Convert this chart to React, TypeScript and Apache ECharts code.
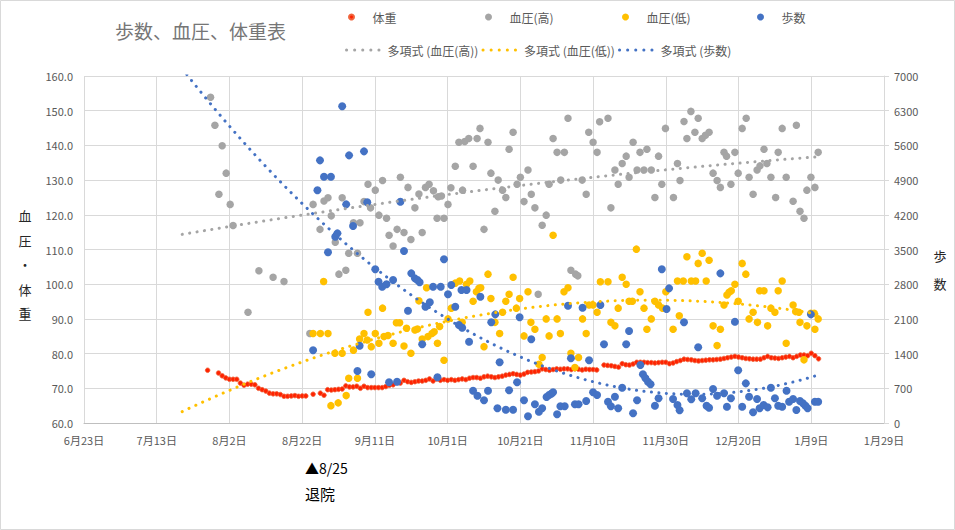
import React, { useEffect, useRef } from "react";
import * as echarts from "echarts";

// x values are days counted from 6/23 (first tick of the date axis)
const START_DATE = Date.UTC(2019, 5, 23);
const X_MIN = 0;
const X_MAX = 220;
const X_STEP = 20;
const TREND_FROM = 27;
const TREND_TO = 202;

const titleText = "歩数、血圧、体重表";
const seriesNames = ["体重", "血圧(高)", "血圧(低)", "歩数"];
const trendNames = ["多項式 (血圧(高))", "多項式 (血圧(低))", "多項式 (歩数)"];

// 体重: one value per day starting at day 34 (7/27); null = no record
const weightStartDay = 34;
const weight: (number | null)[] = [
  75.2, null, null, 74.4, 73.6, 73.0, 72.6, 72.6, 72.6, 71.5,
  70.9, 71.2, 71.2, 71.0, 70.0, 69.6, 69.2, 68.6, 68.4, 68.4,
  68.2, 67.7, 67.7, 67.8, 67.9, 67.7, 67.8, 67.8, null, 68.3,
  null, 68.6, 68.0, 69.6, 69.5, 69.6, 69.7, 69.8, 70.7, 70.4,
  70.4, 70.6, 70.0, 70.6, 70.2, 70.2, 70.2, 70.2, 70.2, 70.5,
  70.9, 71.0, 71.7, 71.5, 72.3, 71.9, 71.7, 71.9, 72.1, 72.1,
  72.3, 72.7, 72.1, 72.7, 72.3, 72.5, 72.3, 72.5, 72.3, 72.5,
  72.7, 72.5, 72.9, 73.1, 73.1, 72.9, 73.3, 73.5, 73.3, 73.1,
  73.3, 73.5, 73.8, 74.0, 74.2, 74.0, 73.8, 74.1, 74.6, 74.7,
  74.8, 75.0, 75.6, 75.4, 75.2, 75.4, 75.6, 75.5, 75.6, 75.6,
  75.4, 75.6, 75.5, 75.3, 75.5, 75.4, 75.4, 75.3, null, 76.7,
  76.6, 76.5, 76.3, 76.1, 77.1, 76.8, 76.7, 77.0, 77.5, 77.5,
  77.5, 77.4, 77.4, 77.3, 77.4, 77.5, 77.5, 77.1, 77.3, 77.7,
  78.0, 78.4, 78.3, 78.2, 78.0, 77.9, 78.0, 78.1, 78.2, 78.2,
  78.3, 78.4, 78.6, 78.8, 79.0, 79.2, 79.0, 78.8, 78.6, 78.5,
  78.4, 78.4, 78.4, 78.8, 79.2, 78.8, 78.7, 78.6, 78.8, 79.0,
  79.2, 78.8, 79.2, 79.6, 79.6, 79.4, 80.1, 79.4, 78.5,
];

// 血圧(高): [day, mmHg]
const bpHigh: [number, number][] = [
  [34.8, 153.9], [36.0, 145.8], [37.1, 125.9], [38.0, 139.9], [39.1, 132.0], [40.2, 123.0], [41.0, 116.9],
  [45.1, 91.9], [48.1, 103.9], [52.0, 102.0], [55.0, 100.8],
  [62.1, 85.8], [63.0, 123.0], [64.9, 115.8], [66.0, 124.0], [67.1, 124.9], [68.0, 119.7], [69.1, 112.1],
  [70.1, 102.9], [71.0, 124.9], [72.0, 104.0], [72.8, 108.9], [74.1, 117.7], [75.2, 108.9], [75.9, 117.7],
  [77.0, 123.8], [78.1, 128.8], [78.8, 122.0], [80.1, 127.1], [81.1, 119.9], [82.1, 129.9], [83.2, 119.0],
  [83.9, 114.1], [85.0, 111.0], [86.1, 115.8], [87.0, 130.8], [88.0, 114.9], [89.1, 127.9], [89.9, 112.9],
  [91.0, 122.0], [92.1, 126.0], [93.0, 114.9], [93.9, 127.9], [94.9, 128.8], [96.1, 126.9], [97.1, 119.0],
  [97.4, 125.2], [98.3, 125.4], [99.0, 119.0], [100.1, 123.0], [100.9, 127.8], [102.1, 134.0], [103.1, 140.9],
  [104.1, 127.1], [104.7, 141.1], [105.8, 142.0], [107.0, 134.0], [108.1, 142.0], [108.9, 144.9], [110.0, 115.8],
  [111.1, 140.9], [111.9, 132.0], [113.0, 121.0], [113.9, 130.0], [115.1, 127.1], [116.0, 125.0], [116.9, 138.9],
  [118.0, 143.8], [119.1, 128.8], [120.0, 130.8], [121.0, 123.8], [122.1, 132.9], [123.0, 125.9], [124.0, 122.0],
  [124.9, 97.1], [126.0, 117.0], [127.1, 119.9], [127.9, 128.8], [129.0, 142.0], [130.1, 138.0], [131.1, 130.0],
  [132.1, 138.0], [133.1, 147.8], [133.9, 104.0], [135.2, 102.9], [135.8, 102.4], [137.0, 130.0], [138.1, 125.9],
  [138.8, 143.8], [140.0, 140.9], [141.1, 138.0], [141.8, 146.8], [144.1, 147.8], [144.9, 122.0], [146.0, 132.9],
  [146.9, 128.8], [148.0, 134.8], [149.1, 136.9], [149.9, 130.8], [151.0, 140.9], [152.1, 132.9], [152.9, 138.0],
  [154.0, 132.9], [154.8, 138.9], [156.0, 132.9], [157.0, 125.0], [158.0, 136.9], [158.9, 128.8], [159.9, 144.9],
  [162.1, 125.0], [163.2, 134.8], [163.9, 129.9], [165.0, 146.9], [165.8, 142.0], [166.9, 149.8], [168.0, 143.8],
  [168.9, 147.8], [170.0, 142.0], [170.9, 142.9], [171.9, 143.8], [173.0, 132.0], [174.1, 129.9], [175.0, 127.9],
  [176.0, 138.0], [176.7, 136.9], [177.9, 128.8], [179.0, 138.0], [179.9, 132.0], [181.0, 144.9], [182.1, 147.8],
  [182.9, 130.8], [184.0, 125.9], [185.1, 132.9], [185.9, 134.1], [187.0, 138.9], [187.8, 134.8], [188.9, 130.8],
  [190.2, 125.0], [190.9, 138.0], [192.0, 144.9], [193.1, 130.8], [195.0, 123.9], [195.9, 145.8], [196.9, 121.0],
  [198.0, 119.0], [198.8, 127.1], [199.9, 130.8], [201.0, 127.9], [201.9, 138.0],
];

// 血圧(低): [day, mmHg]
const bpLow: [number, number][] = [
  [63.0, 85.8], [65.0, 85.8], [65.9, 100.8], [67.1, 85.8], [67.9, 65.0], [69.0, 80.1], [69.9, 65.8], [71.0, 80.1],
  [72.1, 67.9], [72.8, 72.9], [74.1, 81.0], [75.2, 72.9], [75.8, 84.2], [77.0, 85.8], [77.9, 83.9], [78.1, 91.9],
  [79.0, 82.0], [80.1, 85.8], [81.1, 83.0], [82.1, 93.1], [82.5, 84.9], [83.6, 85.2], [85.0, 83.0], [85.9, 88.9],
  [86.8, 88.9], [88.0, 82.2], [88.7, 87.3], [89.9, 80.1], [91.0, 86.8], [91.7, 87.1], [92.1, 95.2], [93.0, 84.2],
  [94.2, 99.0], [94.6, 84.9], [95.7, 85.8], [96.3, 86.3], [97.2, 83.0], [97.8, 87.8], [99.0, 78.1], [100.1, 90.0],
  [101.0, 93.1], [102.1, 100.3], [103.3, 100.9], [104.0, 89.0], [105.2, 100.0], [106.1, 100.9], [107.0, 95.1],
  [107.9, 97.8], [108.6, 98.8], [109.1, 99.0], [110.0, 82.0], [111.1, 102.9], [111.9, 95.9], [113.0, 89.0],
  [114.3, 85.8], [115.1, 91.9], [116.0, 95.1], [116.9, 97.1], [118.0, 102.0], [118.9, 93.1], [119.8, 95.9],
  [121.0, 85.1], [122.1, 97.8], [122.9, 89.0], [124.0, 87.0], [125.1, 76.9], [126.0, 78.9], [127.1, 90.0],
  [127.9, 85.1], [129.0, 114.1], [130.1, 90.0], [131.0, 85.8], [132.0, 97.8], [133.1, 99.0], [133.9, 80.1],
  [135.0, 76.0], [136.0, 78.9], [137.1, 90.0], [138.1, 85.8], [138.9, 94.0], [140.0, 94.0], [141.1, 91.9],
  [142.0, 100.7], [144.1, 100.7], [144.9, 89.0], [146.0, 88.0], [146.9, 93.1], [148.0, 102.0], [149.1, 100.0],
  [149.9, 95.1], [150.8, 95.1], [151.9, 110.1], [152.9, 97.8], [154.0, 93.1], [154.8, 87.0], [156.0, 90.0],
  [157.0, 95.1], [158.0, 94.0], [159.1, 93.1], [160.0, 97.8], [162.0, 87.0], [163.2, 100.9], [163.7, 90.9],
  [164.8, 100.9], [165.8, 107.9], [167.0, 100.9], [168.2, 100.9], [168.9, 106.0], [170.0, 108.9], [171.1, 100.9],
  [171.9, 106.9], [173.0, 88.0], [174.1, 82.3], [175.0, 87.0], [176.0, 94.0], [176.8, 96.9], [177.4, 97.7],
  [178.0, 98.1], [179.0, 100.0], [179.9, 95.1], [181.0, 106.0], [182.0, 102.9], [182.9, 90.0], [184.0, 91.9],
  [185.2, 89.0], [185.8, 98.1], [187.0, 98.1], [188.0, 88.0], [188.9, 93.1], [190.0, 91.9], [190.9, 98.1],
  [192.0, 100.9], [193.1, 83.0], [195.0, 94.0], [195.7, 92.1], [196.6, 91.9], [196.9, 89.0], [198.0, 78.2],
  [198.8, 88.0], [199.9, 91.6], [200.8, 91.6], [201.0, 87.0], [201.9, 90.0],
];

// 歩数: [day, steps]
const steps: [number, number][] = [
  [63.0, 1466], [64.2, 4694], [64.9, 5298], [66.0, 4967], [67.1, 3443], [67.9, 4967], [69.1, 3758], [69.7, 3826],
  [71.0, 6390], [72.1, 4411], [72.9, 5399], [74.0, 3973], [75.2, 1049], [75.8, 1560], [77.0, 5480], [77.9, 4452],
  [79.0, 982], [80.1, 3100], [81.0, 2850], [82.0, 2749], [83.2, 2798], [83.9, 821], [85.0, 2884], [86.1, 833],
  [87.0, 4464], [88.0, 3470], [89.1, 2266], [90.0, 3019], [91.0, 2918], [91.7, 2884], [92.3, 2838], [93.0, 1587],
  [93.9, 2346], [95.1, 2435], [96.0, 2749], [97.2, 922], [98.1, 2749], [99.0, 3302], [100.1, 2596], [101.0, 2783],
  [102.1, 2346], [103.1, 1977], [103.8, 2683], [104.0, 1922], [105.2, 2683], [105.9, 1640], [107.0, 652],
  [108.2, 551], [109.0, 2548], [110.0, 458], [111.1, 652], [112.0, 2031], [113.1, 2192], [113.7, 296],
  [114.3, 1224], [116.0, 268], [116.9, 659], [118.0, 268], [119.1, 821], [119.8, 2132], [121.0, 458], [122.1, 135],
  [123.0, 1688], [124.0, 377], [125.1, 228], [126.0, 296], [127.2, 524], [127.9, 565], [128.5, 591], [129.0, 619],
  [130.1, 175], [131.0, 337], [132.2, 337], [133.1, 2366], [133.9, 1305], [135.0, 377], [136.0, 377], [137.1, 2326],
  [138.1, 444], [138.9, 1265], [140.0, 619], [141.1, 565], [142.0, 2380], [143.0, 1587], [144.1, 430], [144.9, 337],
  [146.0, 530], [146.9, 296], [148.0, 712], [149.1, 1587], [149.9, 1856], [151.0, 195], [152.1, 458], [153.0, 1170],
  [153.7, 982], [154.4, 901], [155.1, 833], [155.8, 781], [157.0, 349], [158.0, 498], [158.9, 3100], [160.2, 2299],
  [160.9, 2716], [162.0, 484], [163.2, 363], [163.8, 256], [165.0, 2031], [165.8, 599], [167.0, 478], [168.2, 599],
  [168.9, 1527], [170.0, 498], [171.2, 349], [171.9, 309], [173.0, 686], [174.1, 551], [175.0, 3019], [176.0, 599],
  [176.8, 329], [177.9, 498], [179.0, 2043], [179.9, 1063], [181.0, 329], [182.0, 800], [182.9, 530], [184.0, 216],
  [185.1, 484], [185.8, 296], [186.9, 363], [188.0, 316], [188.9, 712], [190.0, 498], [190.9, 349], [192.0, 329],
  [193.2, 652], [193.9, 430], [195.0, 484], [195.9, 262], [196.9, 444], [197.7, 397], [198.4, 349], [199.0, 296],
  [199.9, 2192], [201.0, 430], [201.9, 430],
];

const FONT = "'Noto Sans CJK JP', 'Noto Sans', sans-serif";
const COLORS = { weight: "#FF2200", high: "#A5A5A5", low: "#FFC000", steps: "#4472C4" };

// least-squares polynomial (order 2) trendline, as Excel's 多項式 trendline
function quadraticFit(pts: [number, number][]) {
  const n = pts.length;
  const mx = pts.reduce((s, p) => s + p[0], 0) / n;
  let s1 = 0, s2 = 0, s3 = 0, s4 = 0, t0 = 0, t1 = 0, t2 = 0;
  for (const [x0, y] of pts) {
    const x = x0 - mx;
    s1 += x; s2 += x * x; s3 += x * x * x; s4 += x * x * x * x;
    t0 += y; t1 += x * y; t2 += x * x * y;
  }
  const A = [
    [n, s1, s2, t0],
    [s1, s2, s3, t1],
    [s2, s3, s4, t2],
  ];
  for (let i = 0; i < 3; i++) {
    let p = i;
    for (let r = i + 1; r < 3; r++) if (Math.abs(A[r][i]) > Math.abs(A[p][i])) p = r;
    [A[i], A[p]] = [A[p], A[i]];
    for (let r = 0; r < 3; r++) {
      if (r === i) continue;
      const f = A[r][i] / A[i][i];
      for (let c = i; c < 4; c++) A[r][c] -= f * A[i][c];
    }
  }
  const c0 = A[0][3] / A[0][0], c1 = A[1][3] / A[1][1], c2 = A[2][3] / A[2][2];
  return (x: number) => c0 + c1 * (x - mx) + c2 * (x - mx) * (x - mx);
}

function trendData(pts: [number, number][]) {
  const f = quadraticFit(pts);
  const out: [number, number][] = [];
  for (let d = TREND_FROM; d <= TREND_TO; d += 1) out.push([d, f(d)]);
  return out;
}

function dayLabel(v: number) {
  const dt = new Date(START_DATE + v * 86400000);
  return `${dt.getUTCMonth() + 1}月${dt.getUTCDate()}日`;
}

export default function App() {
  const ref = useRef<HTMLDivElement>(null);
  useEffect(() => {
    if (!ref.current) return;
    const chart = echarts.init(ref.current, undefined, { renderer: "svg" });
    const weightData = weight
      .map((v, i) => (v == null ? null : [weightStartDay + i, v]))
      .filter((p) => p != null);

    const legendText = { color: "#595959", fontSize: 12, fontFamily: FONT };
    const dotLegend = (name: string, left: number, h: number) => ({
      left, top: 11, padding: 0, icon: "circle", itemWidth: 32, itemHeight: h,
      textStyle: legendText, selectedMode: false, data: [name],
    });
    const lineLegend = (name: string, left: number) => ({
      left, top: 44, padding: 0, itemWidth: 36, itemHeight: 10,
      textStyle: legendText, selectedMode: false, data: [name],
      itemStyle: { opacity: 0, color: "rgba(0,0,0,0)", borderWidth: 0 },
      lineStyle: { type: [0.1, 8], width: 3, cap: "round" },
    });
    const trendLine = (name: string, pts: [number, number][], color: string, yAxisIndex: number) => ({
      name, type: "line", yAxisIndex, data: trendData(pts), symbol: "none", showSymbol: false,
      silent: true, z: 4, clip: true,
      lineStyle: { color, width: 3, type: [0.1, 7.4], cap: "round" },
      itemStyle: { color },
    });

    chart.setOption({
      animation: false,
      backgroundColor: "#ffffff",
      textStyle: { fontFamily: FONT },
      title: {
        text: titleText, left: 115, top: 21, padding: 0,
        textStyle: { fontSize: 19, color: "#767676", fontWeight: "normal", fontFamily: FONT },
      },
      legend: [
        dotLegend(seriesNames[0], 348, 5),
        dotLegend(seriesNames[1], 485, 7),
        dotLegend(seriesNames[2], 622, 7),
        dotLegend(seriesNames[3], 757, 7),
        lineLegend(trendNames[0], 345),
        lineLegend(trendNames[1], 481.5),
        lineLegend(trendNames[2], 618),
      ],
      grid: { left: 84, right: 71, top: 76, bottom: 107, containLabel: false },
      xAxis: {
        type: "value", min: X_MIN, max: X_MAX, interval: X_STEP,
        axisLine: { show: true, onZero: false, lineStyle: { color: "#bfbfbf", width: 1 } },
        axisTick: { show: false },
        axisLabel: { formatter: dayLabel, color: "#595959", fontSize: 11, margin: 11, fontFamily: FONT },
        splitLine: { show: true, lineStyle: { color: "#d9d9d9", width: 1 } },
      },
      yAxis: [
        {
          type: "value", min: 60, max: 160, interval: 10,
          axisLine: { show: false }, axisTick: { show: false },
          axisLabel: { formatter: (v: number) => v.toFixed(1), color: "#595959", fontSize: 11, margin: 11, fontFamily: FONT },
          splitLine: { show: true, lineStyle: { color: "#d9d9d9", width: 1 } },
        },
        {
          type: "value", position: "right", min: 0, max: 7000, interval: 700,
          axisLine: { show: true, lineStyle: { color: "#d9d9d9", width: 1 } },
          axisTick: { show: true, length: 5, lineStyle: { color: "#d9d9d9" } },
          axisLabel: { formatter: (v: number) => String(v), color: "#595959", fontSize: 11, margin: 10, fontFamily: FONT },
          splitLine: { show: false },
        },
      ],
      series: [
        {
          name: seriesNames[0], type: "scatter", data: weightData, symbolSize: 4.6, z: 2,
          itemStyle: { color: COLORS.weight, borderColor: "#F0643C", borderWidth: 0.8, opacity: 1 },
        },
        {
          name: seriesNames[1], type: "scatter", data: bpHigh, symbolSize: 7.5, z: 2,
          itemStyle: { color: COLORS.high, opacity: 1 },
        },
        {
          name: seriesNames[2], type: "scatter", data: bpLow, symbolSize: 7.5, z: 2,
          itemStyle: { color: COLORS.low, opacity: 1 },
        },
        {
          name: seriesNames[3], type: "scatter", yAxisIndex: 1, data: steps, symbolSize: 8, z: 2,
          itemStyle: { color: COLORS.steps, opacity: 1 },
        },
        trendLine(trendNames[0], bpHigh, COLORS.high, 0),
        trendLine(trendNames[1], bpLow, COLORS.low, 0),
        trendLine(trendNames[2], steps, COLORS.steps, 1),
      ],
      graphic: [
        {
          type: "rect", silent: true, z: 0,
          shape: { x: 0.5, y: 0.5, width: 954, height: 529 },
          style: { fill: "none", stroke: "#d9d9d9", lineWidth: 1 },
        },
        {
          type: "text", x: 25, y: 264.5, silent: true,
          style: { text: "血\n圧\n・\n体\n重", fontSize: 13, lineHeight: 24.5, align: "center", verticalAlign: "middle", fill: "#262626", fontFamily: FONT },
        },
        {
          type: "text", x: 940, y: 269, silent: true,
          style: { text: "歩\n数", fontSize: 13, lineHeight: 28, align: "center", verticalAlign: "middle", fill: "#262626", fontFamily: FONT },
        },
        {
          type: "text", x: 305, y: 468, silent: true,
          style: { text: "▲8/25", fontSize: 14, align: "left", verticalAlign: "middle", fill: "#000000", fontFamily: FONT },
        },
        {
          type: "text", x: 305, y: 493, silent: true,
          style: { text: "退院", fontSize: 15, align: "left", verticalAlign: "middle", fill: "#000000", fontFamily: FONT },
        },
      ],
    });
    return () => chart.dispose();
  }, []);
  return (
    <div
      ref={ref}
      style={{ position: "absolute", left: 0, top: 0, width: 955, height: 530, background: "#fff" }}
    />
  );
}
